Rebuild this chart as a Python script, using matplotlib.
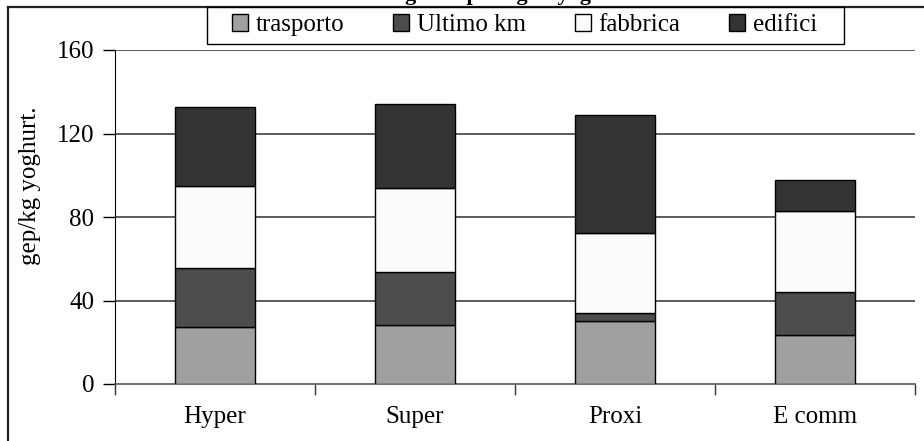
import matplotlib
matplotlib.use("Agg")
import matplotlib.pyplot as plt
from matplotlib.lines import Line2D
from matplotlib.patches import Rectangle
import numpy as np

plt.rcParams["font.family"] = ["Liberation Serif", "DejaVu Serif"]

# categorie e componenti (gep/kg yoghurt)
canali = ["Hyper", "Super", "Proxi", "E comm"]
trasporto = [27.4, 28.2, 30.1, 23.7]
ultimo_km = [28.0, 25.6, 3.7, 20.2]
fabbrica = [39.5, 40.3, 38.4, 39.2]
edifici = [37.8, 40.2, 56.8, 14.7]

serie = [
    ("trasporto", trasporto, "#a0a0a0"),
    ("Ultimo km", ultimo_km, "#4d4d4d"),
    ("fabbrica", fabbrica, "#fbfbfb"),
    ("edifici", edifici, "#333333"),
]
yticks = [0, 40, 80, 120, 160]

W, H = 924, 441
fig = plt.figure(figsize=(W / 100, H / 100), dpi=100)
ax = fig.add_axes([115 / W, 1 - 384 / H, 800 / W, 334 / H])

x = np.arange(len(canali))
base = np.zeros(len(canali))
handles = []
for nome, vals, col in serie:
    b = ax.bar(x, vals, width=0.4, bottom=base, color=col,
               edgecolor="black", linewidth=1.0, label=nome, zorder=3)
    handles.append(b)
    base += np.array(vals)

ax.set_xlim(-0.5, len(canali) - 0.5)
ax.set_ylim(0, 160)
ax.set_yticks(yticks)
ax.tick_params(axis="y", direction="out", length=9, width=1, pad=6, labelsize=18)
for v in yticks[1:]:
    ax.axhline(v, color="#303030", lw=1.1, zorder=1)

# etichette al centro, tacche ai confini delle categorie
ax.set_xticks(x)
ax.set_xticklabels(canali)
ax.set_xticks(np.arange(len(canali) + 1) - 0.5, minor=True)
ax.tick_params(axis="x", which="major", length=0, pad=16, labelsize=18)
ax.tick_params(axis="x", which="minor", direction="out", length=8, width=1, color="#333333")

for s in ("top", "right"):
    ax.spines[s].set_visible(False)
ax.spines["left"].set_color("black")
ax.spines["bottom"].set_color("#555555")
ax.spines["bottom"].set_linewidth(1.2)

fig.text(30 / W, 1 - 186 / H, "gep/kg yoghurt.", rotation=90,
         ha="center", va="center", fontsize=18)

# titolo (quasi tutto fuori dal bordo superiore)
fig.text(450 / W, 1.0, "Consumo energetico per kg di yoghurt",
         ha="center", va="baseline", fontsize=16, fontweight="bold")

# cornice esterna: lato superiore e sinistro
fig.add_artist(Line2D([8 / W, 1], [1 - 6.5 / H] * 2, transform=fig.transFigure,
                      color="#222222", lw=1.6))
fig.add_artist(Line2D([8 / W] * 2, [0, 1 - 6.5 / H], transform=fig.transFigure,
                      color="#222222", lw=1.6))

# riquadro legenda
fig.add_artist(Rectangle((207 / W, 1 - 44 / H), (844 - 207) / W, 37.5 / H,
                         transform=fig.transFigure, facecolor="white",
                         edgecolor="black", lw=1.0, zorder=4))
leg = fig.legend(handles=handles, loc="center left", ncol=4,
                 bbox_to_anchor=(232 / W, 1 - 25 / H),
                 fontsize=18, frameon=False, borderaxespad=0, borderpad=0,
                 handlelength=0.65, handleheight=0.65, handletextpad=0.3,
                 columnspacing=1.95)
leg.set_zorder(5)

fig.savefig("out.png", dpi=100)
